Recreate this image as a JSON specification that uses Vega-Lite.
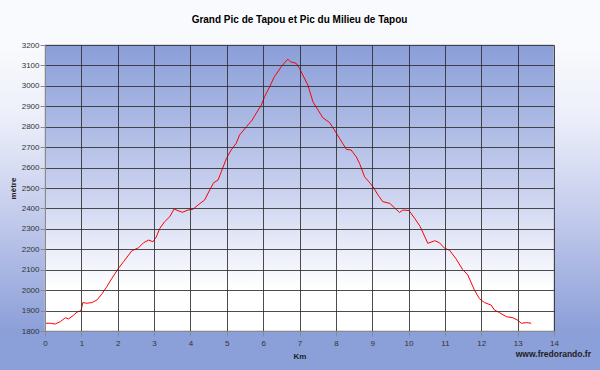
{
  "$schema": "https://vega.github.io/schema/vega-lite/v6.json",
  "width": 509,
  "height": 286,
  "autosize": {"type": "none"},
  "padding": {"left": 45, "top": 45, "right": 46, "bottom": 39},
  "background": "#ffffff",
  "title": {
    "text": "Grand Pic de Tapou et Pic du Milieu de Tapou",
    "font": "Liberation Sans",
    "fontSize": 10,
    "fontWeight": "bold",
    "color": "#000000",
    "frame": "group",
    "anchor": "middle",
    "offset": 16
  },
  "view": {
    "stroke": {
      "gradient": "linear", "x1": 0, "y1": 0, "x2": 0, "y2": 1,
      "stops": [
        {"offset": 0, "color": "#f9fafd"},
        {"offset": 0.25, "color": "#eceffa"},
        {"offset": 0.6, "color": "#c3cbec"},
        {"offset": 1, "color": "#8b9fd8"}
      ]
    },
    "strokeWidth": 100,
    "fill": null
  },
  "config": {
    "font": "Liberation Sans",
    "axis": {
      "labelFont": "Liberation Sans",
      "labelFontSize": 8,
      "labelColor": "#333333",
      "labelOverlap": false,
      "titleFont": "Liberation Sans",
      "titleFontSize": 8,
      "titleFontWeight": "bold",
      "titleColor": "#222222",
      "domainColor": "#8a8a8a",
      "tickColor": "#8a8a8a",
      "tickSize": 5,
      "grid": true,
      "gridColor": "#2e2e2e",
      "gridOpacity": 0.85,
      "gridWidth": 1,
      "format": "d",
      "labelFlush": false,
      "zindex": 1
    },
    "axisX": {"labelPadding": 3, "titlePadding": 5},
    "axisY": {"labelPadding": 1, "titlePadding": 4}
  },
  "layer": [
    {
      "data": {"values": [{}]},
      "mark": {
        "type": "rect",
        "stroke": "#b8bcc8",
        "strokeWidth": 1,
        "color": {
          "gradient": "linear", "x1": 0, "y1": 0, "x2": 0, "y2": 1,
          "stops": [
            {"offset": 0, "color": "#8a9ed8"},
            {"offset": 0.5, "color": "#c8d0ee"},
            {"offset": 0.85, "color": "#ffffff"},
            {"offset": 1, "color": "#ffffff"}
          ]
        }
      },
      "encoding": {
        "x": {
          "datum": 0, "type": "quantitative",
          "scale": {"domain": [0, 14], "nice": false, "zero": false},
          "axis": {"title": "Km", "values": [0, 1, 2, 3, 4, 5, 6, 7, 8, 9, 10, 11, 12, 13, 14], "tickCount": 30, "grid": true, "zindex": 1, "gridColor": "#2e2e2e", "gridOpacity": 0.85}
        },
        "x2": {"datum": 14},
        "y": {
          "datum": 1800, "type": "quantitative",
          "scale": {"domain": [1800, 3200], "nice": false, "zero": false},
          "axis": {"title": "mètre", "values": [1800, 1900, 2000, 2100, 2200, 2300, 2400, 2500, 2600, 2700, 2800, 2900, 3000, 3100, 3200], "tickCount": 30, "grid": true, "zindex": 1, "gridColor": "#2e2e2e", "gridOpacity": 0.85}
        },
        "y2": {"datum": 3200}
      }
    },
    {
      "data": {
        "values": [
          {"km": 0.00, "alt": 1838}, {"km": 0.15, "alt": 1838}, {"km": 0.28, "alt": 1834},
          {"km": 0.42, "alt": 1846}, {"km": 0.56, "alt": 1865}, {"km": 0.65, "alt": 1859},
          {"km": 0.79, "alt": 1878}, {"km": 0.88, "alt": 1893}, {"km": 0.99, "alt": 1899},
          {"km": 1.04, "alt": 1939}, {"km": 1.15, "alt": 1936}, {"km": 1.29, "alt": 1939},
          {"km": 1.43, "alt": 1952}, {"km": 1.56, "alt": 1980}, {"km": 1.70, "alt": 2017},
          {"km": 1.84, "alt": 2058}, {"km": 1.93, "alt": 2082}, {"km": 2.02, "alt": 2107},
          {"km": 2.16, "alt": 2139}, {"km": 2.30, "alt": 2172}, {"km": 2.39, "alt": 2193},
          {"km": 2.57, "alt": 2207}, {"km": 2.71, "alt": 2232}, {"km": 2.85, "alt": 2245},
          {"km": 2.97, "alt": 2237}, {"km": 3.06, "alt": 2260}, {"km": 3.15, "alt": 2300},
          {"km": 3.29, "alt": 2335}, {"km": 3.43, "alt": 2359}, {"km": 3.55, "alt": 2397},
          {"km": 3.66, "alt": 2389}, {"km": 3.78, "alt": 2381}, {"km": 3.93, "alt": 2392},
          {"km": 4.07, "alt": 2396}, {"km": 4.21, "alt": 2417}, {"km": 4.39, "alt": 2441},
          {"km": 4.53, "alt": 2490}, {"km": 4.64, "alt": 2526}, {"km": 4.76, "alt": 2539},
          {"km": 4.85, "alt": 2580}, {"km": 4.99, "alt": 2645}, {"km": 5.12, "alt": 2686},
          {"km": 5.26, "alt": 2719}, {"km": 5.35, "alt": 2759}, {"km": 5.54, "alt": 2800},
          {"km": 5.70, "alt": 2833}, {"km": 5.81, "alt": 2866}, {"km": 5.95, "alt": 2906},
          {"km": 6.04, "alt": 2947}, {"km": 6.18, "alt": 2996}, {"km": 6.31, "alt": 3045},
          {"km": 6.50, "alt": 3094}, {"km": 6.59, "alt": 3113}, {"km": 6.68, "alt": 3131},
          {"km": 6.75, "alt": 3118}, {"km": 6.91, "alt": 3110}, {"km": 7.00, "alt": 3086},
          {"km": 7.09, "alt": 3053}, {"km": 7.23, "alt": 3004}, {"km": 7.37, "alt": 2922},
          {"km": 7.51, "alt": 2882}, {"km": 7.64, "alt": 2844}, {"km": 7.83, "alt": 2820},
          {"km": 7.96, "alt": 2784}, {"km": 8.10, "alt": 2743}, {"km": 8.29, "alt": 2689},
          {"km": 8.42, "alt": 2686}, {"km": 8.56, "alt": 2653}, {"km": 8.65, "alt": 2621},
          {"km": 8.79, "alt": 2555}, {"km": 8.93, "alt": 2526}, {"km": 9.02, "alt": 2506},
          {"km": 9.16, "alt": 2466}, {"km": 9.29, "alt": 2433}, {"km": 9.48, "alt": 2425},
          {"km": 9.61, "alt": 2404}, {"km": 9.75, "alt": 2380}, {"km": 9.84, "alt": 2392},
          {"km": 10.01, "alt": 2390}, {"km": 10.17, "alt": 2351}, {"km": 10.32, "alt": 2311},
          {"km": 10.53, "alt": 2229}, {"km": 10.72, "alt": 2242}, {"km": 10.85, "alt": 2232},
          {"km": 10.99, "alt": 2205}, {"km": 11.13, "alt": 2195}, {"km": 11.31, "alt": 2152},
          {"km": 11.49, "alt": 2100}, {"km": 11.63, "alt": 2074}, {"km": 11.81, "alt": 2001},
          {"km": 11.95, "alt": 1958}, {"km": 12.09, "alt": 1939}, {"km": 12.27, "alt": 1927},
          {"km": 12.36, "alt": 1903}, {"km": 12.50, "alt": 1890}, {"km": 12.69, "alt": 1870},
          {"km": 12.87, "alt": 1865}, {"km": 13.01, "alt": 1852}, {"km": 13.10, "alt": 1838},
          {"km": 13.24, "alt": 1841}, {"km": 13.37, "alt": 1838}
        ]
      },
      "mark": {"type": "line", "color": "#ff0000", "strokeWidth": 1},
      "encoding": {
        "x": {"field": "km", "type": "quantitative"},
        "y": {"field": "alt", "type": "quantitative"}
      }
    },
    {
      "data": {"values": [{"label": "www.fredorando.fr"}]},
      "mark": {
        "type": "text",
        "align": "right",
        "baseline": "middle",
        "dx": 37,
        "dy": 23,
        "font": "Liberation Sans",
        "fontSize": 8.5,
        "fontWeight": "bold",
        "color": "#222222"
      },
      "encoding": {
        "x": {"datum": 14, "type": "quantitative"},
        "y": {"datum": 1800, "type": "quantitative"},
        "text": {"field": "label"}
      }
    }
  ]
}
